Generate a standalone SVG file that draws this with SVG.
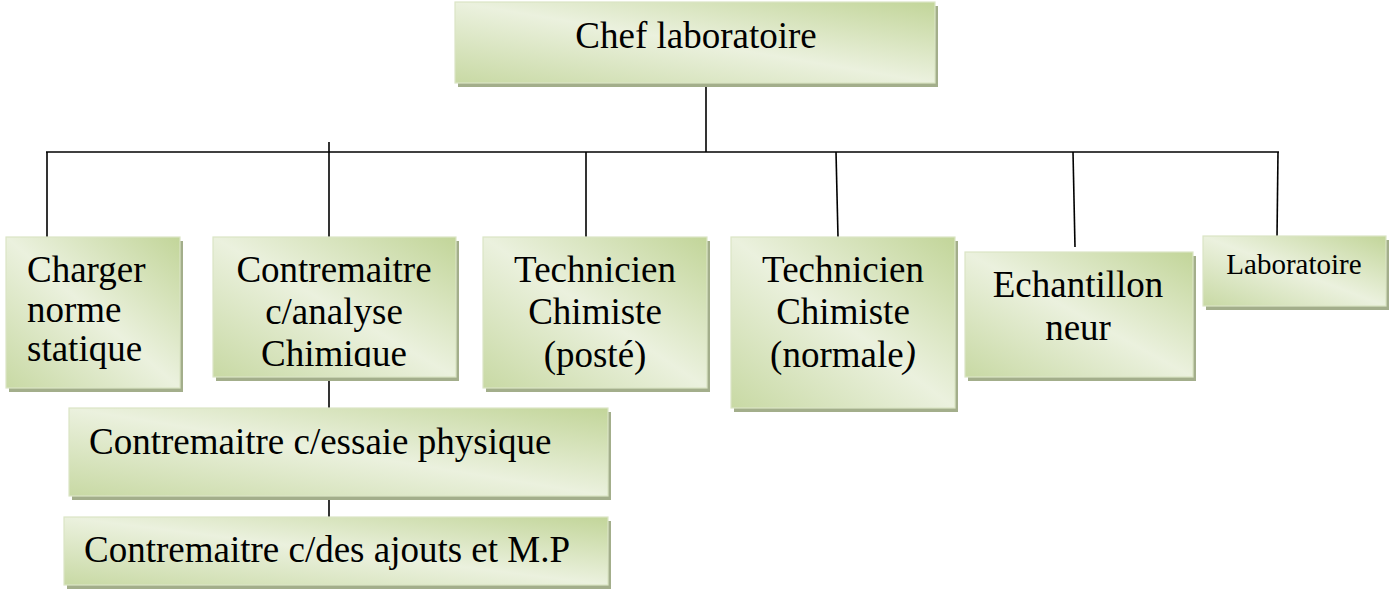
<svg xmlns="http://www.w3.org/2000/svg" width="1391" height="591" viewBox="0 0 1391 591">
  <defs>
    <linearGradient id="boxFill" x1="1" y1="0" x2="0" y2="1">
      <stop offset="0" stop-color="#c2d599"/>
      <stop offset="0.5" stop-color="#ebf1de"/>
      <stop offset="1" stop-color="#c8d9a4"/>
    </linearGradient>
    <clipPath id="clipAnalyse">
      <rect x="213" y="237" width="243" height="130"/>
    </clipPath>
  </defs>
  <style>
    .shadow { fill: #a3ae8b; }
    .box { fill: url(#boxFill); stroke: #dbe5c5; stroke-width: 1.2; }
    .lbl { font-family: 'Liberation Serif', 'DejaVu Serif', serif; font-size: 37px; fill: #000; }
    .mid { text-anchor: middle; }
    .link { stroke: #000; stroke-width: 1.6; fill: none; }
  </style>

  <rect width="1391" height="591" fill="#ffffff"/>

  <!-- connectors -->
  <g id="connectors">
    <line class="link" x1="706" y1="83" x2="706" y2="152"/>
    <line class="link" x1="46" y1="152" x2="1279" y2="152"/>
    <line class="link" x1="47" y1="152" x2="47" y2="237"/>
    <line class="link" x1="329" y1="142" x2="329" y2="237"/>
    <line class="link" x1="586" y1="152" x2="586" y2="237"/>
    <line class="link" x1="836" y1="152" x2="838" y2="237"/>
    <line class="link" x1="1073" y1="152" x2="1075" y2="247"/>
    <line class="link" x1="1278" y1="152" x2="1277" y2="237"/>
    <line class="link" x1="329" y1="377" x2="329" y2="408"/>
    <line class="link" x1="329" y1="496" x2="329" y2="517"/>
  </g>

  <!-- top node -->
  <g id="chef-laboratoire">
    <rect class="shadow" x="458" y="6" width="480" height="81"/>
    <rect class="box" x="455" y="2" width="480" height="81"/>
    <text class="lbl mid" x="696" y="48" font-family="Liberation Serif">Chef laboratoire</text>
  </g>

  <!-- second level -->
  <g id="charger-norme">
    <rect class="shadow" x="9" y="241" width="174" height="151"/>
    <rect class="box" x="6" y="237" width="174" height="151"/>
    <text class="lbl" x="27" y="282">Charger</text>
    <text class="lbl" x="27" y="322">norme</text>
    <text class="lbl" x="27" y="361">statique</text>
  </g>

  <g id="contremaitre-analyse">
    <rect class="shadow" x="216" y="241" width="243" height="140"/>
    <rect class="box" x="213" y="237" width="243" height="140"/>
    <g clip-path="url(#clipAnalyse)">
      <text class="lbl mid" x="334" y="282">Contremaitre</text>
      <text class="lbl mid" x="334" y="324">c/analyse</text>
      <text class="lbl mid" x="334" y="366">Chimique</text>
    </g>
  </g>

  <g id="technicien-poste">
    <rect class="shadow" x="486" y="241" width="224" height="151"/>
    <rect class="box" x="483" y="237" width="224" height="151"/>
    <text class="lbl mid" x="595" y="282">Technicien</text>
    <text class="lbl mid" x="595" y="324">Chimiste</text>
    <text class="lbl mid" x="595" y="367">(posté)</text>
  </g>

  <g id="technicien-normale">
    <rect class="shadow" x="734" y="241" width="224" height="171"/>
    <rect class="box" x="731" y="237" width="224" height="171"/>
    <text class="lbl mid" x="843" y="282">Technicien</text>
    <text class="lbl mid" x="843" y="324">Chimiste</text>
    <text class="lbl mid" x="843" y="367">(normale<tspan font-style="italic">)</tspan></text>
  </g>

  <g id="echantillon">
    <rect class="shadow" x="968" y="256" width="228" height="125"/>
    <rect class="box" x="965" y="252" width="228" height="125"/>
    <text class="lbl mid" x="1078" y="297">Echantillon</text>
    <text class="lbl mid" x="1078" y="340">neur</text>
  </g>

  <g id="laboratoire">
    <rect class="shadow" x="1206" y="240" width="183" height="70"/>
    <rect class="box" x="1203" y="236" width="183" height="70"/>
    <text class="lbl mid" x="1294" y="274" style="font-size:29px">Laboratoire</text>
  </g>

  <!-- lower chain -->
  <g id="contremaitre-essaie">
    <rect class="shadow" x="72" y="412" width="539" height="88"/>
    <rect class="box" x="69" y="408" width="539" height="88"/>
    <text class="lbl" x="89" y="454">Contremaitre c/essaie physique</text>
  </g>

  <g id="contremaitre-ajouts">
    <rect class="shadow" x="67" y="521" width="544" height="68"/>
    <rect class="box" x="64" y="517" width="544" height="68"/>
    <text class="lbl" x="84" y="562">Contremaitre c/des ajouts et M.P</text>
  </g>
</svg>
